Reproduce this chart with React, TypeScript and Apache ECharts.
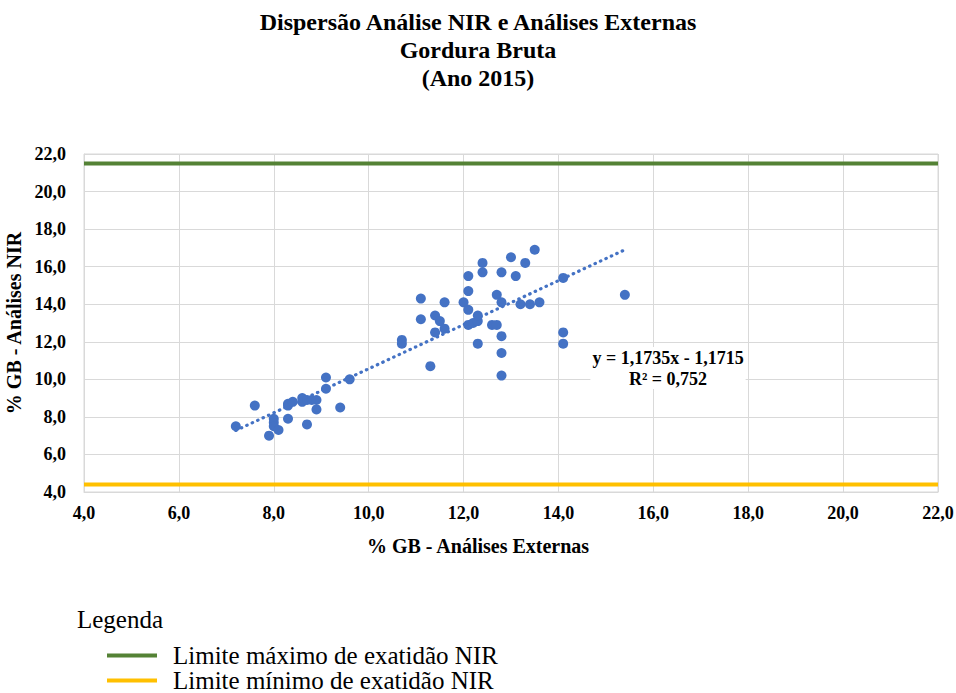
import React, { useEffect, useRef } from "react";
import * as echarts from "echarts";

const externas = [
  7.2, 7.6, 7.9, 8.0, 8.0, 8.0, 8.1, 8.3, 8.7,
  8.3, 8.3, 8.4, 8.6, 8.6, 8.7, 8.8, 8.9,
  8.9, 9.4, 9.1, 9.1, 9.6,
  10.7, 10.7, 11.3,
  11.1, 11.1, 11.4, 11.5, 11.4, 11.6, 11.6,
  12.0, 12.1, 12.1, 12.1, 12.1, 12.2, 12.3, 12.3, 12.3,
  12.4, 12.4,
  12.6, 12.7, 12.7, 12.8, 12.8, 12.8, 12.8, 12.8,
  13.0, 13.1, 13.2, 13.3, 13.4, 13.5, 13.6,
  14.1, 14.1, 14.1, 15.4,
];
const nir = [
  7.5, 8.6, 7.0, 7.9, 7.7, 7.5, 7.3, 7.9, 7.6,
  8.6, 8.7, 8.8, 8.8, 9.0, 8.9, 8.9, 8.9,
  8.4, 8.5, 9.5, 10.1, 10.0,
  12.1, 11.9, 10.7,
  14.3, 13.2, 13.4, 13.1, 12.5, 12.7, 14.1,
  14.1, 15.5, 14.7, 13.7, 12.9, 13.0, 13.1, 13.4, 11.9,
  16.2, 15.7,
  12.9, 12.9, 14.5, 14.1, 15.7, 12.3, 11.4, 10.2,
  16.5, 15.5, 14.0, 16.2, 14.0, 16.9, 14.1,
  15.4, 12.5, 11.9, 14.5,
];

const limiteMaximo = 21.5;
const limiteMinimo = 4.4;
const trendSlope = 1.1735;
const trendIntercept = -1.1715;
const rSquared = 0.752;
const axisMin = 4;
const axisMax = 22;
const axisStep = 2;

const nomeMax = "Limite máximo de exatidão NIR";
const nomeMin = "Limite mínimo de exatidão NIR";

const fmt = (v: number) => v.toFixed(1).replace(".", ",");
const fmt4 = (v: number) => v.toFixed(4).replace(".", ",");

export default function App() {
  const ref = useRef<HTMLDivElement>(null);
  useEffect(() => {
    document.body.style.margin = "0";
    if (!ref.current) return;
    const chart = echarts.init(ref.current, undefined, { renderer: "svg" });
    const serif = "Times New Roman, Liberation Serif, serif";
    const pts = externas.map((x, i) => [x, nir[i]]);
    const tMin = Math.min(...externas);
    const tMax = Math.max(...externas);
    const trend = [
      [tMin, trendSlope * tMin + trendIntercept],
      [tMax, trendSlope * tMax + trendIntercept],
    ];
    const labelStyle = {
      formatter: (v: number) => fmt(v),
      fontFamily: serif,
      fontWeight: "bold",
      fontSize: 18,
      color: "#000",
    };
    const axisCommon = {
      type: "value",
      min: axisMin,
      max: axisMax,
      interval: axisStep,
      axisLine: { show: true, lineStyle: { color: "#d9d9d9", width: 1 } },
      axisTick: { show: false },
      splitLine: { show: true, lineStyle: { color: "#d9d9d9", width: 1 } },
      nameLocation: "middle",
    };
    const nameStyle = { fontFamily: serif, fontWeight: "bold", fontSize: 20, color: "#000" };
    const legendIcon = "path://M0,0 L50,0 L50,4 L0,4 Z";
    const legendText = { fontFamily: serif, fontSize: 25, lineHeight: 25, color: "#000", padding: [0, 0, 0, 11] };
    chart.setOption({
      animation: false,
      backgroundColor: "#fff",
      title: {
        text: "Dispersão Análise NIR e Análises Externas\nGordura Bruta\n(Ano 2015)",
        left: "center",
        top: 3,
        textStyle: { fontFamily: serif, fontWeight: "bold", fontSize: 24, lineHeight: 28, color: "#000" },
      },
      grid: {
        left: 84,
        right: 18,
        top: 154,
        bottom: 201,
        show: true,
        borderColor: "#d9d9d9",
        borderWidth: 1,
        containLabel: false,
        outerBoundsMode: "none",
      },
      xAxis: {
        ...axisCommon,
        name: "% GB - Análises Externas",
        nameGap: 44,
        nameTextStyle: { ...nameStyle, padding: [0, 66, 0, 0] },
        axisLabel: { ...labelStyle, margin: 12 },
      },
      yAxis: {
        ...axisCommon,
        name: "% GB - Análises NIR",
        nameGap: 50,
        nameTextStyle: nameStyle,
        axisLabel: { ...labelStyle, margin: 18 },
      },
      legend: [
        {
          orient: "vertical",
          left: 107,
          top: 643,
          padding: 0,
          itemWidth: 50,
          itemHeight: 25,
          textStyle: legendText,
          data: [{ name: nomeMax, icon: legendIcon }],
        },
        {
          orient: "vertical",
          left: 107,
          top: 668,
          padding: 0,
          itemWidth: 50,
          itemHeight: 25,
          textStyle: legendText,
          data: [{ name: nomeMin, icon: legendIcon }],
        },
      ],
      graphic: [
        {
          type: "text",
          left: 77,
          top: 607,
          style: { text: "Legenda", font: `25px ${serif}`, fill: "#000" },
        },
        {
          type: "text",
          x: 668,
          y: 368,
          z: 10,
          style: {
            text: `y = ${fmt4(trendSlope)}x - ${fmt4(Math.abs(trendIntercept))}\nR² = ${rSquared.toFixed(3).replace(".", ",")}`,
            font: `bold 18px ${serif}`,
            fill: "#000",
            align: "center",
            verticalAlign: "middle",
            lineHeight: 21,
            backgroundColor: "#fff",
            padding: [0, 2, 0, 2],
          },
        },
      ],
      series: [
        {
          name: nomeMax,
          type: "line",
          data: [[axisMin, limiteMaximo], [axisMax, limiteMaximo]],
          symbol: "none",
          color: "#548235",
          lineStyle: { color: "#548235", width: 4 },
        },
        {
          name: nomeMin,
          type: "line",
          data: [[axisMin, limiteMinimo], [axisMax, limiteMinimo]],
          symbol: "none",
          color: "#FFC000",
          lineStyle: { color: "#FFC000", width: 4 },
        },
        {
          name: "Tendência",
          type: "line",
          data: trend,
          symbol: "none",
          lineStyle: { color: "#4472C4", width: 3.2, type: [0.5, 5.5], cap: "round" },
          z: 3,
        },
        {
          name: "Amostras",
          type: "scatter",
          data: pts,
          symbolSize: 10,
          itemStyle: { color: "#4472C4", opacity: 1 },
          z: 4,
        },
      ],
    });
    return () => chart.dispose();
  }, []);
  return <div ref={ref} style={{ width: 956, height: 693 }} />;
}
